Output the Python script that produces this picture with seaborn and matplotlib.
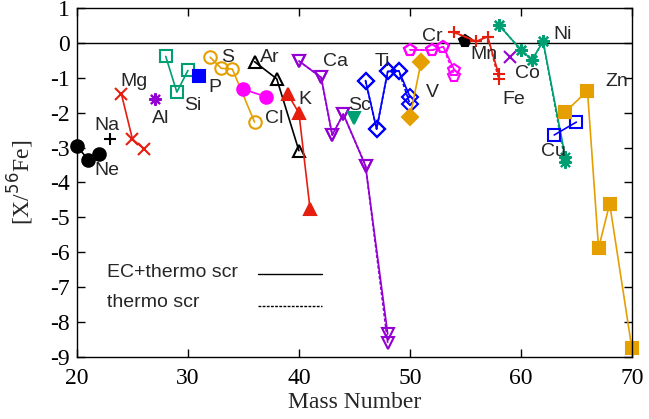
import matplotlib
matplotlib.use('Agg')
import matplotlib.pyplot as plt
import seaborn as sns

# mass numbers and [X/56Fe] for each element, EC+thermo scr (ec) and thermo scr (th)
ne_a = [20, 21, 22]
ne_ec = [-2.95, -3.35, -3.18]
na_a = [23]
na_ec = [-2.75]
mg_a = [24, 25, 26]
mg_ec = [-1.46, -2.76, -3.03]
al_a = [27]
al_ec = [-1.60]
si_a = [28, 29, 30]
si_ec = [-0.39, -1.41, -0.79]
p_a = [31]
p_ec = [-0.94]
s_a = [32, 33, 34, 36]
s_ec = [-0.41, -0.73, -0.75, -2.27]
cl_a = [35, 37]
cl_ec = [-1.33, -1.54]
ar_a = [36, 38, 40]
ar_ec = [-0.54, -1.03, -3.09]
k_a = [39, 40, 41]
k_ec = [-1.47, -2.01, -4.75]
ca_a = [40, 42, 43, 44, 46, 48]
ca_ec = [-0.52, -0.99, -2.64, -2.04, -3.52, -8.34]
ca_th = [-0.52, -0.99, -2.64, -2.04, -3.52, -8.60]
sc_a = [45]
sc_ec = [-2.16]
ti_a = [46, 47, 48, 49, 50]
ti_ec = [-1.08, -2.47, -0.82, -0.80, -1.54]
ti_th = [-1.08, -2.47, -0.82, -0.80, -1.75]
v_a = [50, 51]
v_ec = [-2.13, -0.56]
cr_a = [50, 52, 53, 54]
cr_ec = [-0.20, -0.21, -0.11, -0.77]
cr_th = [-0.20, -0.21, -0.11, -0.94]
mn_a = [55]
mn_ec = [0.06]
fe_a = [54, 56, 57, 58]
fe_ec = [0.30, 0.04, 0.18, -0.90]
fe_th = [0.30, 0.04, 0.18, -1.03]
co_a = [59]
co_ec = [-0.41]
ni_a = [58, 60, 61, 62, 64]
ni_ec = [0.52, -0.20, -0.49, 0.04, -3.27]
ni_th = [0.52, -0.20, -0.49, 0.04, -3.42]
cu_a = [63, 65]
cu_ec = [-2.64, -2.27]
zn_a = [64, 66, 67, 68, 70]
zn_ec = [-1.98, -1.37, -5.88, -4.61, -8.75]

# label positions (mass number, value)
labels = ['Na', 'Ne', 'Mg', 'Al', 'Si', 'P', 'S', 'Cl', 'Ar', 'K', 'Ca', 'Sc',
          'Ti', 'V', 'Cr', 'Mn', 'Fe', 'Co', 'Ni', 'Cu', 'Zn']
label_x = [22.7, 22.7, 25.1, 27.5, 30.4, 32.4, 33.6, 37.8, 37.4, 40.5, 43.3, 45.5,
           47.5, 52.0, 52.0, 56.7, 59.4, 60.6, 63.8, 62.9, 68.6]
label_y = [-2.38, -3.66, -1.11, -2.16, -1.80, -1.27, -0.41, -2.16, -0.41, -1.61, -0.54, -1.80,
           -0.52, -1.42, 0.17, -0.34, -1.61, -0.89, 0.23, -3.11, -1.11]

purple = '#9400D3'
green = '#009E73'
blue = '#0000FF'
orange = '#E69F00'
red = '#E51E10'
magenta = '#FF00FF'
black = '#000000'
star = (8, 2, 0)

# (mass, ec, th, colour, marker, filled)
series = [
    (ne_a, ne_ec, ne_ec, black, 'o', True),
    (na_a, na_ec, na_ec, black, '+', True),
    (mg_a, mg_ec, mg_ec, red, 'x', True),
    (al_a, al_ec, al_ec, purple, star, True),
    (si_a, si_ec, si_ec, green, 's', False),
    (p_a, p_ec, p_ec, blue, 's', True),
    (s_a, s_ec, s_ec, orange, 'o', False),
    (cl_a, cl_ec, cl_ec, magenta, 'o', True),
    (ar_a, ar_ec, ar_ec, black, '^', False),
    (k_a, k_ec, k_ec, red, '^', True),
    (ca_a, ca_ec, ca_th, purple, 'v', False),
    (sc_a, sc_ec, sc_ec, green, 'v', True),
    (ti_a, ti_ec, ti_th, blue, 'D', False),
    (v_a, v_ec, v_ec, orange, 'D', True),
    (cr_a, cr_ec, cr_th, magenta, 'p', False),
    (mn_a, mn_ec, mn_ec, black, 'p', True),
    (fe_a, fe_ec, fe_th, red, '+', True),
    (co_a, co_ec, co_ec, purple, 'x', True),
    (ni_a, ni_ec, ni_th, green, star, True),
    (cu_a, cu_ec, cu_ec, blue, 's', False),
    (zn_a, zn_ec, zn_ec, orange, 's', True),
]

sns.set_style('ticks')
plt.rcParams['axes.unicode_minus'] = False
plt.rcParams['font.family'] = ['Liberation Serif', 'DejaVu Serif']

fig = plt.figure(figsize=(6.49, 4.19), dpi=100)
ax = fig.add_axes([0.1186, 0.148, 0.855, 0.833])

ax.axhline(0, color='black', lw=1, zorder=1)

for a, ec, th, col, mk, filled in series:
    size = 8.5 if mk in ('D', 'p') else 9
    face = col if filled else 'none'
    common = dict(color=col, marker=mk, markersize=size, markerfacecolor=face,
                  markeredgecolor=col, markeredgewidth=1.5, lw=1.2,
                  estimator=None, sort=False, ax=ax, legend=False, clip_on=False)
    if th != ec:
        sns.lineplot(x=a, y=th, linestyle=(0, (2, 1.2)), **common)
    sns.lineplot(x=a, y=ec, **common)

for lab, lx, ly in zip(labels, label_x, label_y):
    ax.text(lx, ly, lab, ha='center', va='center', fontsize=14,
            family='Liberation Sans')

# legend drawn gnuplot style: text on the left, line sample on the right
ax.text(0.054, 0.241, 'EC+thermo scr', transform=ax.transAxes, ha='left',
        va='center', fontsize=14, family='Liberation Sans')
ax.text(0.054, 0.155, 'thermo scr', transform=ax.transAxes, ha='left',
        va='center', fontsize=14, family='Liberation Sans')
ax.plot([0.326, 0.441], [0.237, 0.237], color='black', lw=1, transform=ax.transAxes)
ax.plot([0.326, 0.441], [0.147, 0.147], color='black', lw=1,
        linestyle=(0, (2, 1)), transform=ax.transAxes)

ax.set_xlim(20, 70)
ax.set_ylim(-9, 1)
ax.set_xticks(range(20, 71, 10))
ax.set_yticks(range(-9, 2))
ax.tick_params(direction='in', top=True, right=True, length=6, width=1,
               labelsize=17, colors='black')
ax.tick_params(axis='x', pad=8)
ax.tick_params(axis='y', pad=5)
for sp in ax.spines.values():
    sp.set_visible(True)
    sp.set_color('black')
    sp.set_linewidth(1)
ax.set_xlabel('Mass Number', fontsize=17, labelpad=2)
ax.set_ylabel('[X/$^{56}$Fe]', fontsize=17, labelpad=10)

fig.savefig('out.png', dpi=100)
